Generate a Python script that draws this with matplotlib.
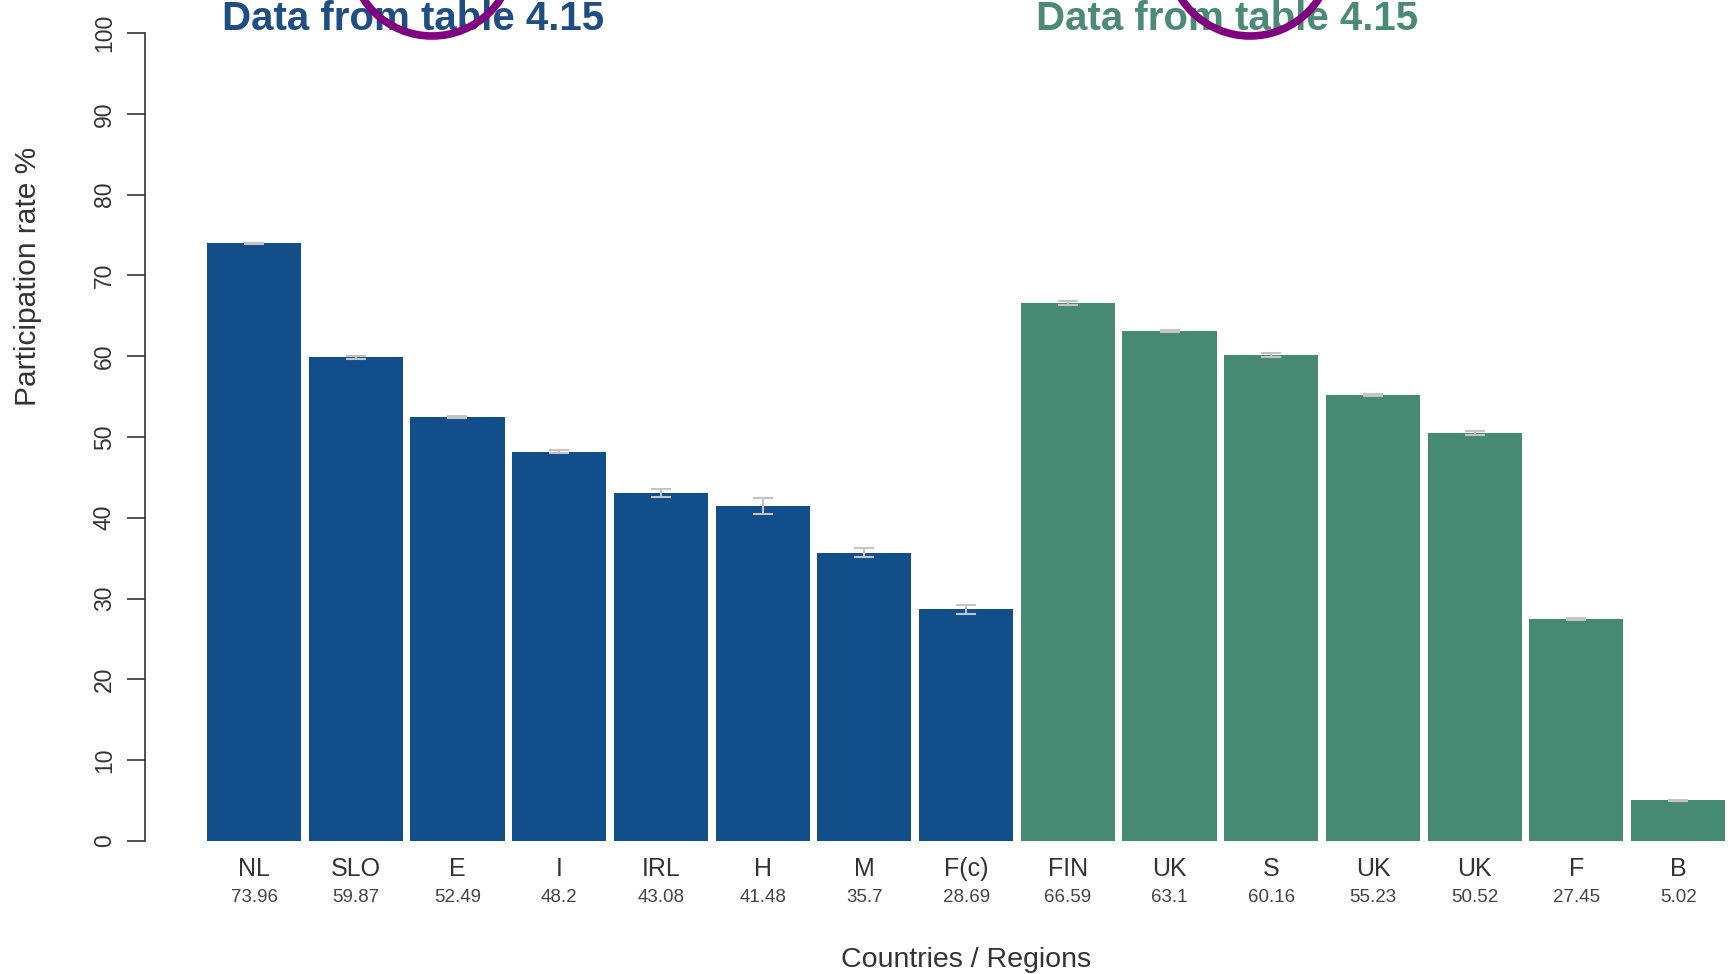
import matplotlib
matplotlib.use("Agg")
import matplotlib.pyplot as plt
from matplotlib.patches import Ellipse

plt.rcParams['font.family'] = ['Liberation Sans', 'DejaVu Sans']

# participation rate per country / region
countries = ['NL', 'SLO', 'E', 'I', 'IRL', 'H', 'M', 'F(c)',
             'FIN', 'UK', 'S', 'UK', 'UK', 'F', 'B']
rates = [73.96, 59.87, 52.49, 48.2, 43.08, 41.48, 35.7, 28.69,
         66.59, 63.1, 60.16, 55.23, 50.52, 27.45, 5.02]
errors = [0.1, 0.2, 0.1, 0.15, 0.45, 1.0, 0.6, 0.55,
          0.3, 0.15, 0.2, 0.1, 0.25, 0.1, 0.1]
n_blue = 8

blue = '#124e89'
green = '#468a73'
colors = [blue] * n_blue + [green] * (len(rates) - n_blue)

W, H = 1731, 974
fig = plt.figure(figsize=(W / 100, H / 100), dpi=100)
ax = fig.add_axes([145 / W, (H - 841) / H, (W - 145) / W, (841 - 33) / H])

x = list(range(len(rates)))
ax.bar(x, rates, width=0.925, color=colors, zorder=2)
ax.errorbar(x, rates, yerr=errors, fmt='none', ecolor='#c4c4c4',
            elinewidth=1.5, capsize=7, capthick=1.5, zorder=3)

ax.set_xlim(-1.072, 14.52)
ax.set_ylim(0, 100)
ax.set_yticks(range(0, 101, 10))
ax.set_yticklabels([str(v) for v in range(0, 101, 10)], rotation=90,
                   va='center', fontsize=16.5, color='#333333')
ax.tick_params(axis='y', length=13, width=1.2, pad=8, color='#333333')
ax.set_xticks([])

# country names and their rates under each bar
for xi, c, r in zip(x, countries, rates):
    ax.text(xi, -0.035, c, transform=ax.get_xaxis_transform(),
            ha='center', va='center', fontsize=18, color='#333333')
    ax.text(xi, -0.0695, f'{r:g}', transform=ax.get_xaxis_transform(),
            ha='center', va='center', fontsize=13.5, color='#444444')

for side in ['top', 'right', 'bottom']:
    ax.spines[side].set_visible(False)
ax.spines['left'].set_color('#333333')
ax.spines['left'].set_linewidth(1.2)

fig.text(966 / W, 1 - 960 / H, 'Countries / Regions', ha='center',
         va='center', fontsize=20.5, color='#333333')
fig.text(28 / W, 1 - 276 / H, 'Participation rate %', rotation=90,
         ha='center', va='center', fontsize=21.5, color='#333333')

# headings for the two groups
fig.text(413 / W, 1 - 30 / H, 'Data from table 4.15', ha='center',
         va='baseline', fontsize=29, fontweight='bold', color='#1f4e85')
fig.text(1227 / W, 1 - 30 / H, 'Data from table 4.15', ha='center',
         va='baseline', fontsize=29, fontweight='bold', color='#4a8a77')

# purple rings over the headings
for cx in [432, 1250]:
    ring = Ellipse((cx / W, 1 + 46 / H), 164 / W, 164 / H,
                   transform=fig.transFigure, fill=False,
                   edgecolor='#800080', linewidth=5.5, zorder=10)
    fig.patches.append(ring)

fig.savefig('out.png', dpi=100)
